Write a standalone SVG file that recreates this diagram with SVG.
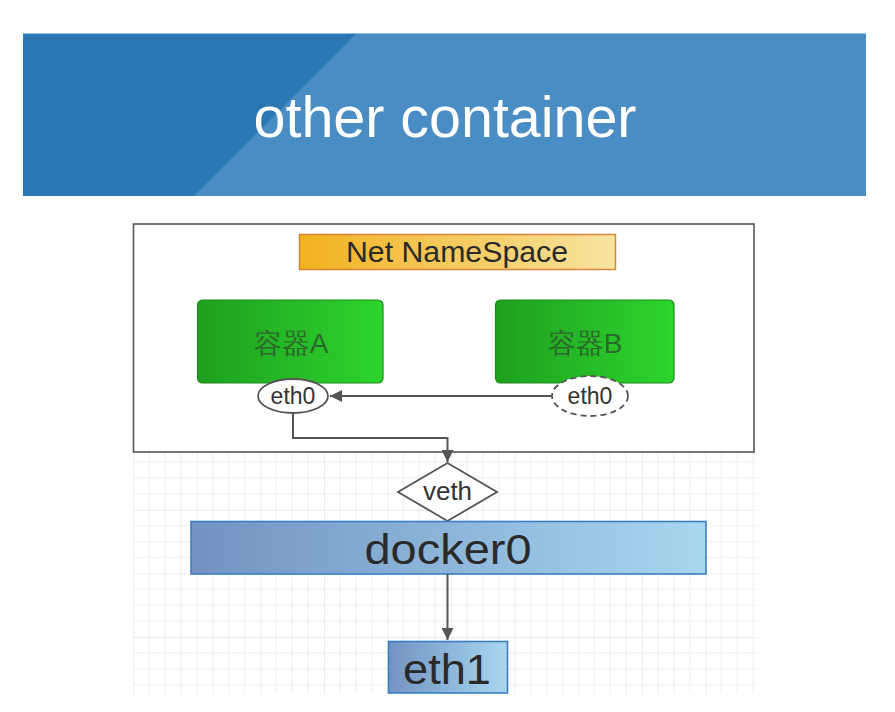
<svg xmlns="http://www.w3.org/2000/svg" width="895" height="712" viewBox="0 0 895 712">
<style>
.lbl{font-family:"Liberation Sans",Arial,sans-serif;text-anchor:middle}
.conn{fill:none;stroke:#555;stroke-width:2}
.ell{fill:#fff;stroke:#555;stroke-width:1.8}
</style>
<defs>
<marker id="arr" viewBox="0 0 10 10" refX="10" refY="5" markerWidth="6" markerHeight="6" orient="auto" markerUnits="strokeWidth">
<path d="M0,0 L10,5 L0,10 z" fill="#555"/>
</marker>
<linearGradient id="gNS" x1="0" y1="0" x2="1" y2="0">
<stop offset="0" stop-color="#f2b21e"/>
<stop offset="1" stop-color="#f8e3a0"/>
</linearGradient>
<linearGradient id="gGreen" x1="0" y1="0" x2="1" y2="0">
<stop offset="0" stop-color="#1f9f1f"/>
<stop offset="1" stop-color="#2dd52d"/>
</linearGradient>
<linearGradient id="gBlue" x1="0" y1="0" x2="1" y2="0">
<stop offset="0" stop-color="#7293c2"/>
<stop offset="1" stop-color="#a8d7f0"/>
</linearGradient>
<pattern id="grid" patternUnits="userSpaceOnUse" x="6" y="1" width="63.6" height="63.6">
<path d="M0,0V63.6M15.9,0V63.6M31.8,0V63.6M47.7,0V63.6M0,0H63.6M0,15.9H63.6M0,31.8H63.6M0,47.7H63.6" stroke="#ececec" stroke-width="1" fill="none"/>
<path d="M0,0V63.6M0,0H63.6" stroke="#e2e2e2" stroke-width="1" fill="none"/>
</pattern>
</defs>
<rect width="895" height="712" fill="#fff"/>
<g id="banner">
<rect x="23" y="33" width="843" height="163" fill="#2b77b4"/>
<polygon points="357,33 866,33 866,196 194,196" fill="#4a8cc4"/>
<line x1="23" y1="33.5" x2="866" y2="33.5" stroke="#8fc6e6" stroke-width="1"/>
<text class="lbl" x="445" y="137" font-size="58" fill="#fff" textLength="383" lengthAdjust="spacingAndGlyphs">other container</text>
</g>
<rect id="grid-bg" x="133" y="452" width="624" height="242" fill="url(#grid)"/>
<g id="namespace-box">
<rect x="133.5" y="224" width="620.5" height="228" fill="#fff" stroke="#555" stroke-width="1.6"/>
</g>
<g id="net-namespace">
<rect x="299.5" y="234.5" width="316" height="35" fill="url(#gNS)" stroke="#d4843c" stroke-width="1.5"/>
<text class="lbl" x="457" y="262" font-size="29" fill="#2a2a2a" textLength="222" lengthAdjust="spacingAndGlyphs">Net NameSpace</text>
</g>
<g id="container-a">
<rect x="197.5" y="300" width="185.5" height="83" rx="5" fill="url(#gGreen)" stroke="#1a8a1a" stroke-width="1.2"/>
<text class="lbl" x="291" y="353" font-size="28" fill="#2b6a2b" font-family="'Liberation Sans','Noto Sans CJK SC',sans-serif">容器A</text>
</g>
<g id="container-b">
<rect x="495.5" y="300" width="178.5" height="83" rx="5" fill="url(#gGreen)" stroke="#1a8a1a" stroke-width="1.2"/>
<text class="lbl" x="585" y="353" font-size="28" fill="#2b6a2b" font-family="'Liberation Sans','Noto Sans CJK SC',sans-serif">容器B</text>
</g>
<g id="eth0-a">
<ellipse class="ell" cx="293" cy="396" rx="35" ry="17"/>
<text class="lbl" x="293" y="404" font-size="23" fill="#333">eth0</text>
</g>
<g id="eth0-b">
<ellipse class="ell" cx="590" cy="396" rx="38" ry="20" stroke-dasharray="6,4"/>
<text class="lbl" x="590" y="404" font-size="23" fill="#333">eth0</text>
</g>
<g id="veth">
<polygon points="447.5,463 497,492 447.5,521 398,492" fill="#fff" stroke="#555" stroke-width="1.8"/>
<text class="lbl" x="447.5" y="500" font-size="26" fill="#333">veth</text>
</g>
<g id="docker0">
<rect x="191" y="521.5" width="515" height="52.5" fill="url(#gBlue)" stroke="#3a7fc4" stroke-width="1.6"/>
<text class="lbl" x="448" y="564" font-size="43" fill="#2a2a2a" textLength="167" lengthAdjust="spacingAndGlyphs">docker0</text>
</g>
<g id="eth1">
<rect x="388.5" y="641.5" width="119" height="51.5" fill="url(#gBlue)" stroke="#3a7fc4" stroke-width="1.6"/>
<text class="lbl" x="447" y="684" font-size="42" fill="#2a2a2a" textLength="88" lengthAdjust="spacingAndGlyphs">eth1</text>
</g>
<g id="connectors">
<path class="conn" d="M552,396 H330" marker-end="url(#arr)"/>
<path class="conn" d="M293,413 V438 H447.5 V462" marker-end="url(#arr)"/>
<path class="conn" d="M447.5,574 V640" marker-end="url(#arr)"/>
</g>
</svg>
